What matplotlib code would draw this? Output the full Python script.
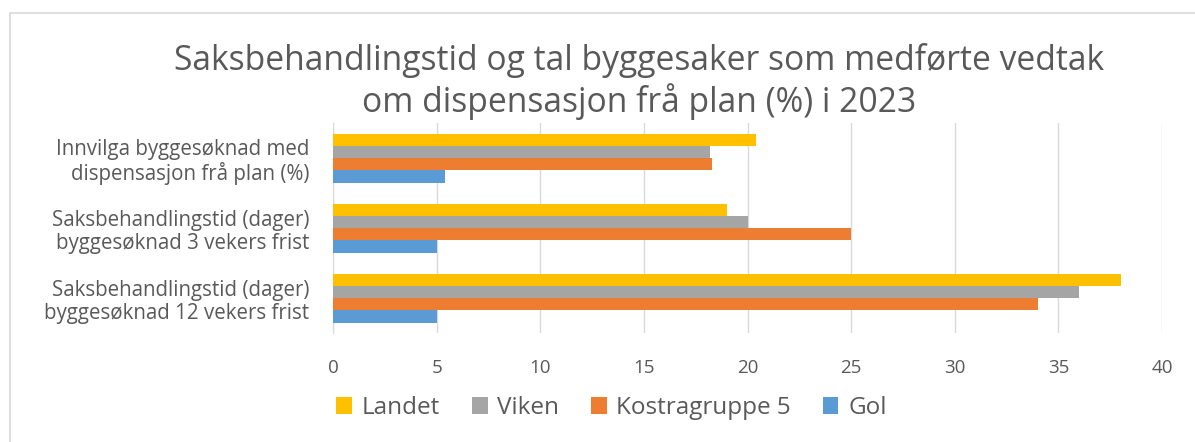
import numpy as np
import matplotlib.pyplot as plt
from matplotlib.patches import Rectangle

plt.rcParams['font.family'] = ['Open Sans', 'DejaVu Sans']

# Data
categories = ["Innvilga byggesøknad med\ndispensasjon frå plan (%)",
              "Saksbehandlingstid (dager)\nbyggesøknad 3 vekers frist",
              "Saksbehandlingstid (dager)\nbyggesøknad 12 vekers frist"]
series = ["Landet", "Viken", "Kostragruppe 5", "Gol"]
landet = [20.4, 19.0, 38.0]
viken = [18.2, 20.0, 36.0]
kostra = [18.3, 25.0, 34.0]
gol = [5.4, 5.0, 5.0]
colors = ["#FFC000", "#A5A5A5", "#ED7D31", "#5B9BD5"]
text_color = "#595959"

fig = plt.figure(figsize=(11.95, 4.42), dpi=100)
ax = fig.add_axes([0.2787, 0.2466, 0.6937, 0.4751])

# chart border
fig.patches.append(Rectangle((10 / 1195, -0.1), 1.1, (442 - 13) / 442 + 0.1,
                             transform=fig.transFigure, fill=False,
                             edgecolor="#d9d9d9", linewidth=1.2))

y = np.arange(len(categories))
bar_h = 0.175
for i, (name, vals) in enumerate(zip(series, [landet, viken, kostra, gol])):
    offset = (i - 1.5) * bar_h
    ax.barh(y + offset, vals, height=bar_h, color=colors[i], label=name, zorder=3)

ax.set_ylim(2.5, -0.5)
ax.set_xlim(0, 40)
ax.set_xticks(np.arange(0, 41, 5))
ax.set_yticks(y)
ax.set_yticklabels(categories, fontsize=14.8, color=text_color, linespacing=1.15)
ax.tick_params(axis='x', labelsize=13.5, colors=text_color, length=0, pad=19)
ax.tick_params(axis='y', length=0, pad=17)
ax.grid(axis='x', color="#d9d9d9", linewidth=1, zorder=0)
for s in ['top', 'right', 'bottom']:
    ax.spines[s].set_visible(False)
ax.spines['left'].set_color("#d9d9d9")

fig.text(0.535, 0.816, "Saksbehandlingstid og tal byggesaker som medførte vedtak\nom dispensasjon frå plan (%) i 2023",
         ha='center', va='center', fontsize=24.2, color=text_color, linespacing=1.2)

fig.legend(loc='center', bbox_to_anchor=(0.5117, 0.077), ncol=4, frameon=False,
           fontsize=17.5, handlelength=0.65, handleheight=0.65, handletextpad=0.4,
           columnspacing=1.3, labelcolor=text_color)

fig.savefig("out.png", dpi=100)
